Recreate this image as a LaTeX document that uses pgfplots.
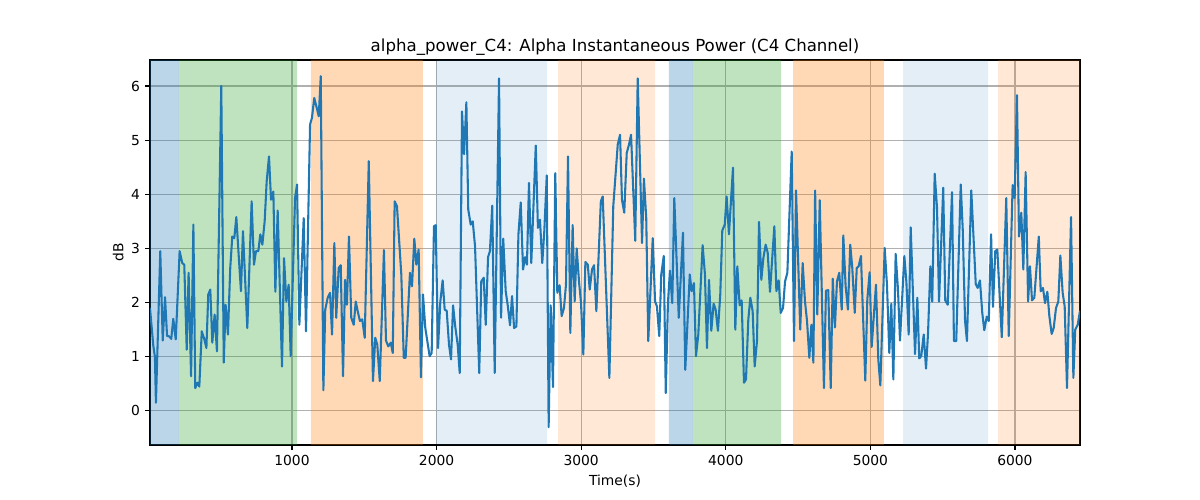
\documentclass[border=0pt]{standalone}
\usepackage{fontspec}
\setmainfont{DejaVu Sans}
\usepackage{pgfplots}
\pgfplotsset{compat=1.18}
\definecolor{tabblue}{HTML}{1F77B4}
\definecolor{tabgreen}{HTML}{2CA02C}
\definecolor{taborange}{HTML}{FF7F0E}
\definecolor{gridgray}{HTML}{B0B0B0}
\pgfplotsset{span/.style 2 args={draw=none, fill=#1, fill opacity=#2}}
\begin{document}
\begin{tikzpicture}
\path[use as bounding box] (0,0) rectangle (12in,5in);
\begin{axis}[
  at={(1.5in,0.55in)}, anchor=south west,
  width=9.3in, height=3.85in, scale only axis,
  xmin=18, xmax=6450, ymin=-0.63, ymax=6.48,
  xtick={1000,2000,3000,4000,5000,6000},
  ytick={0,1,2,3,4,5,6},
  scaled x ticks=false,
  /pgf/number format/1000 sep={},
  /pgf/number format/assume math mode=true,
  grid=major,
  grid style={color=gridgray, line width=0.8pt},
  tick align=outside, tick pos=left,
  major tick length=3.5pt,
  tick style={black, line width=0.8pt},
  axis line style={line width=0.8pt},
  ticklabel style={font=\fontsize{10}{12}\selectfont},
  xticklabel style={anchor=north, inner sep=0pt},
  yticklabel style={anchor=east, inner sep=0pt},
  xticklabel shift=3.5pt, yticklabel shift=3.5pt,
  title={alpha\_power\_C4: Alpha Instantaneous Power (C4 Channel)},
  title style={at={(axis description cs:0.5,1)}, anchor=center, yshift=3pt, font=\fontsize{12}{14}\selectfont},
  xlabel={Time(s)},
  xlabel style={at={(axis description cs:0.5,0)}, anchor=center, yshift=-26pt, font=\fontsize{10}{12}\selectfont},
  ylabel={dB},
  ylabel style={at={(axis description cs:0,0.5)}, anchor=center, yshift=23pt, font=\fontsize{10}{12}\selectfont},
]
% shaded spans
\addplot[span={tabblue}{0.3}] coordinates {(18,-0.63) (18,6.48) (218,6.48) (218,-0.63) (18,-0.63)};
\addplot[span={tabgreen}{0.3}] coordinates {(218,-0.63) (218,6.48) (1035,6.48) (1035,-0.63) (218,-0.63)};
\addplot[span={taborange}{0.3}] coordinates {(1131,-0.63) (1131,6.48) (1906,6.48) (1906,-0.63) (1131,-0.63)};
\addplot[span={tabblue}{0.12}] coordinates {(1996,-0.63) (1996,6.48) (2764,6.48) (2764,-0.63) (1996,-0.63)};
\addplot[span={taborange}{0.17}] coordinates {(2840,-0.63) (2840,6.48) (3511,6.48) (3511,-0.63) (2840,-0.63)};
\addplot[span={tabblue}{0.3}] coordinates {(3607,-0.63) (3607,6.48) (3773,6.48) (3773,-0.63) (3607,-0.63)};
\addplot[span={tabgreen}{0.3}] coordinates {(3773,-0.63) (3773,6.48) (4382,6.48) (4382,-0.63) (3773,-0.63)};
\addplot[span={taborange}{0.3}] coordinates {(4465,-0.63) (4465,6.48) (5094,6.48) (5094,-0.63) (4465,-0.63)};
\addplot[span={tabblue}{0.12}] coordinates {(5226,-0.63) (5226,6.48) (5814,6.48) (5814,-0.63) (5226,-0.63)};
\addplot[span={taborange}{0.17}] coordinates {(5883,-0.63) (5883,6.48) (6450,6.48) (6450,-0.63) (5883,-0.63)};
% signal
\addplot[color=tabblue, line width=1.5pt, mark=none, line join=round] coordinates {
(18,1.9) (41,1.2) (52,1.0) (59,0.15) (89,2.95) (106,1.3) (122,2.1) (136,1.38) (149,1.38) (165,1.33) (179,1.7) (196,1.32) (223,2.95) (241,2.73) (255,2.7) (272,1.13) (285,2.55) (302,0.64) (318,3.44) (331,0.42) (345,0.52) (359,0.45) (376,1.47) (394,1.32) (408,1.16) (421,2.15) (435,2.24) (449,1.26) (465,1.78) (481,1.1) (511,6.0) (528,0.89) (541,1.96) (557,1.41) (573,2.64) (587,3.22) (601,3.19) (615,3.58) (631,2.89) (647,2.21) (661,3.32) (691,1.53) (721,3.87) (737,2.7) (751,2.95) (767,2.95) (781,3.26) (795,3.07) (811,3.5) (825,4.24) (841,4.7) (855,3.9) (871,4.05) (885,2.2) (901,3.7) (931,0.82) (945,2.82) (961,2.02) (977,2.33) (991,1.01) (1021,3.93) (1035,4.18) (1051,1.59) (1081,3.56) (1097,1.47) (1125,5.29) (1138,5.41) (1154,5.78) (1171,5.6) (1185,5.44) (1199,6.18) (1217,0.38) (1230,1.87) (1247,2.09) (1263,2.18) (1277,1.41) (1293,3.1) (1306,1.72) (1323,2.64) (1337,2.69) (1353,0.64) (1367,2.42) (1380,1.96) (1394,3.22) (1410,1.72) (1427,1.59) (1441,2.02) (1457,1.81) (1470,1.66) (1486,1.69) (1503,1.35) (1531,4.61) (1560,0.55) (1576,1.35) (1590,1.22) (1607,0.55) (1636,2.97) (1650,1.3) (1666,1.19) (1683,1.26) (1697,1.07) (1710,3.87) (1726,3.78) (1756,2.52) (1773,0.98) (1786,0.98) (1816,2.55) (1830,2.3) (1846,3.18) (1860,2.7) (1876,2.98) (1892,0.62) (1906,2.15) (1922,1.53) (1952,1.01) (1966,1.07) (1982,3.41) (1994,3.43) (2010,1.16) (2026,2.02) (2042,2.41) (2056,1.87) (2070,1.85) (2086,1.22) (2100,0.95) (2114,1.95) (2129,1.56) (2146,1.22) (2160,0.7) (2176,5.53) (2190,4.74) (2206,5.7) (2219,3.72) (2236,3.44) (2250,3.5) (2266,3.04) (2295,0.7) (2309,2.39) (2326,2.46) (2340,1.59) (2356,2.84) (2369,2.95) (2385,3.79) (2402,0.7) (2432,6.14) (2446,1.72) (2461,3.18) (2478,2.21) (2492,1.95) (2508,1.58) (2522,2.12) (2536,1.53) (2552,1.56) (2566,3.26) (2582,3.85) (2598,2.61) (2612,2.84) (2625,2.7) (2639,4.21) (2655,2.73) (2686,4.9) (2701,3.38) (2715,3.53) (2731,2.73) (2745,3.32) (2762,4.35) (2775,-0.3) (2789,1.95) (2805,0.44) (2821,4.39) (2835,2.18) (2851,2.32) (2865,1.75) (2881,1.9) (2895,2.33) (2909,4.7) (2925,1.44) (2941,3.43) (2955,2.02) (2969,3.0) (2985,2.39) (2999,1.99) (3015,1.04) (3029,2.75) (3046,2.7) (3059,2.24) (3075,2.61) (3089,2.69) (3105,1.84) (3136,3.87) (3149,3.96) (3195,0.61) (3222,3.78) (3253,4.92) (3269,5.1) (3282,3.9) (3298,3.66) (3315,4.76) (3331,4.92) (3345,5.1) (3374,3.14) (3391,6.14) (3421,3.1) (3434,4.29) (3450,3.56) (3464,1.29) (3495,3.19) (3511,2.02) (3524,1.93) (3540,1.38) (3554,2.52) (3571,2.86) (3585,0.33) (3600,1.99) (3614,2.59) (3630,1.99) (3644,3.93) (3675,1.72) (3704,3.29) (3720,0.76) (3751,2.52) (3764,2.21) (3780,2.36) (3794,1.01) (3810,1.41) (3840,3.06) (3856,2.52) (3870,1.16) (3884,2.42) (3900,1.48) (3916,1.98) (3930,1.87) (3946,1.48) (3962,2.15) (3976,3.33) (3993,3.44) (4006,3.96) (4022,3.26) (4050,4.49) (4066,1.5) (4080,2.67) (4096,1.95) (4110,2.04) (4126,0.52) (4140,0.58) (4156,1.69) (4170,2.09) (4186,1.84) (4200,0.82) (4216,1.29) (4230,3.49) (4246,2.42) (4260,2.82) (4276,3.07) (4290,2.92) (4306,2.2) (4336,3.41) (4350,2.21) (4366,2.41) (4380,1.81) (4396,1.9) (4410,2.39) (4426,2.55) (4456,4.79) (4472,1.29) (4486,4.07) (4515,1.5) (4532,2.73) (4548,2.02) (4562,1.66) (4578,0.98) (4592,1.59) (4606,0.89) (4618,4.07) (4633,1.78) (4650,3.89) (4679,0.42) (4693,2.22) (4709,2.23) (4726,0.42) (4740,2.44) (4755,1.54) (4769,2.39) (4785,2.55) (4802,1.87) (4813,3.24) (4829,2.3) (4845,1.87) (4861,3.07) (4875,2.64) (4892,1.81) (4906,2.64) (4919,2.67) (4935,2.86) (4965,0.56) (4979,2.06) (4995,2.56) (5009,1.18) (5039,2.33) (5055,0.95) (5069,0.47) (5099,3.01) (5115,2.33) (5131,1.07) (5145,1.98) (5159,0.58) (5175,2.9) (5191,2.24) (5205,1.3) (5235,2.86) (5249,2.39) (5265,1.41) (5279,3.39) (5309,1.05) (5325,2.09) (5338,0.97) (5352,1.01) (5369,1.41) (5385,0.78) (5399,1.44) (5415,2.67) (5428,2.02) (5445,4.38) (5461,3.75) (5475,2.02) (5504,4.12) (5518,2.04) (5535,1.96) (5565,4.04) (5578,1.29) (5594,1.29) (5625,4.18) (5639,3.35) (5655,1.66) (5668,1.29) (5698,4.07) (5729,2.34) (5742,2.27) (5758,2.41) (5774,1.81) (5788,1.49) (5805,1.74) (5819,1.66) (5835,3.26) (5848,1.92) (5864,2.95) (5878,2.98) (5909,1.36) (5940,3.93) (5957,1.38) (5984,4.17) (5998,3.93) (6014,5.83) (6028,3.22) (6044,3.66) (6058,2.61) (6074,4.41) (6091,2.02) (6104,2.67) (6118,2.04) (6134,2.09) (6165,3.22) (6178,2.21) (6194,2.27) (6208,1.99) (6224,2.2) (6238,1.75) (6254,1.42) (6268,1.53) (6284,1.9) (6300,2.02) (6314,2.87) (6330,2.18) (6344,1.93) (6360,0.42) (6388,3.58) (6404,0.61) (6417,1.5) (6434,1.59) (6450,1.85)
};
\end{axis}
\end{tikzpicture}
\end{document}
